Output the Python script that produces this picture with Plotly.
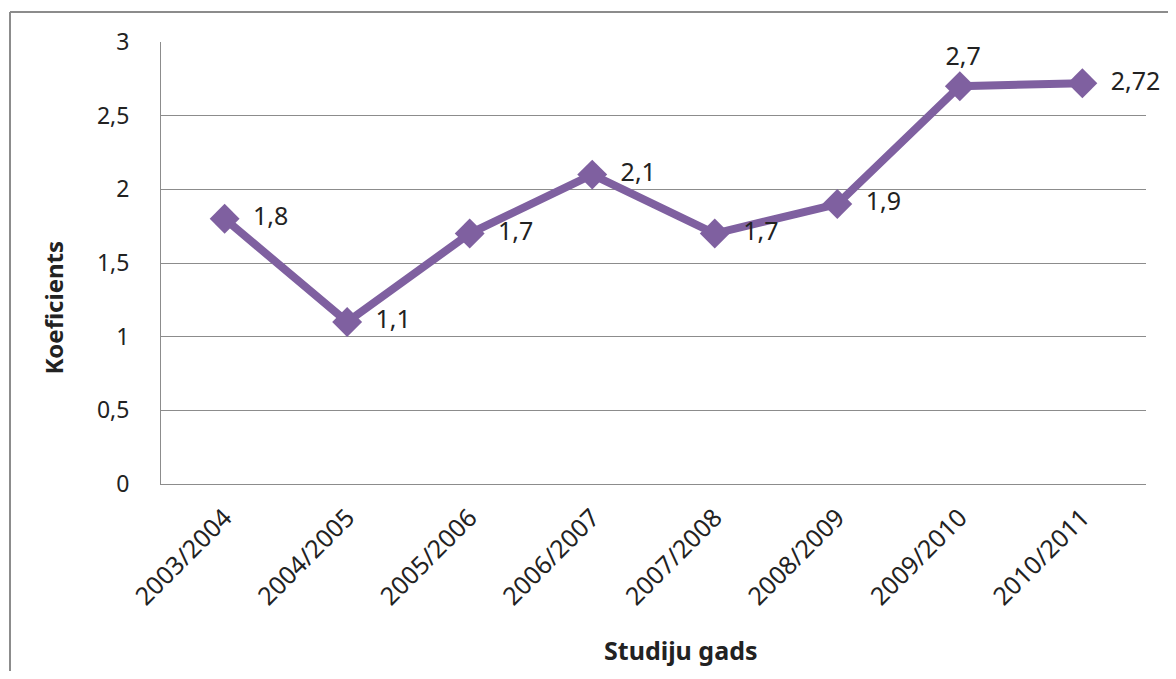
import plotly.graph_objects as go

years = ["2003/2004", "2004/2005", "2005/2006", "2006/2007",
         "2007/2008", "2008/2009", "2009/2010", "2010/2011"]
koef = [1.8, 1.1, 1.7, 2.1, 1.7, 1.9, 2.7, 2.72]

purple = "#7F60A0"
gray = "#8C8C8C"
font = "Noto Sans"

label_pos = ["middle right"] * 6 + ["top center", "middle right"]
pad = "\u00a0\u00a0"

fig = go.Figure()
fig.add_trace(go.Scatter(
    x=years, y=koef,
    mode="lines+markers+text",
    line=dict(color=purple, width=8),
    marker=dict(symbol="diamond", size=23, color=purple),
    texttemplate=[pad + "%{y}"] * 6 + ["\u00a0%{y}", pad + "%{y}"],
    textposition=label_pos,
    textfont=dict(family=font, size=25, color="#222"),
    cliponaxis=False,
))

# the page body has an 8px margin, so the figure is a bit smaller than the window
fig.update_layout(
    width=1160, height=663,
    margin=dict(l=153, r=22, t=34, b=187),
    paper_bgcolor="white", plot_bgcolor="white",
    separators=", ",
    showlegend=False,
    font=dict(family=font, size=23, color="#222"),
    shapes=[
        dict(type="line", xref="paper", yref="paper",
             x0=-0.1533, x1=1.1, y0=1.068, y1=1.068,
             line=dict(color=gray, width=2)),
        dict(type="line", xref="paper", yref="paper",
             x0=-0.1533, x1=-0.1533, y0=-0.6, y1=1.068,
             line=dict(color=gray, width=2)),
    ],
    annotations=[
        dict(text="<b>Studiju gads</b>", xref="paper", yref="paper",
             x=0.527, y=-0.418, showarrow=False,
             font=dict(family=font, size=25)),
        dict(text="<b>Koeficients</b>", xref="paper", yref="paper",
             x=-0.128, y=0.40, textangle=-90, showarrow=False,
             font=dict(family=font, size=24)),
    ],
)
fig.update_xaxes(
    showline=True, linecolor=gray, linewidth=1,
    showgrid=False, tickangle=-45, ticks="",
    ticklabelstandoff=8,
    tickfont=dict(size=25),
)
fig.update_yaxes(
    range=[0, 3], dtick=0.5, tickformat="~r",
    showline=True, linecolor=gray, linewidth=1,
    showgrid=True, gridcolor=gray, gridwidth=1,
    zeroline=False, ticks="", ticklabelstandoff=26,
)

fig.write_html("out.html")
